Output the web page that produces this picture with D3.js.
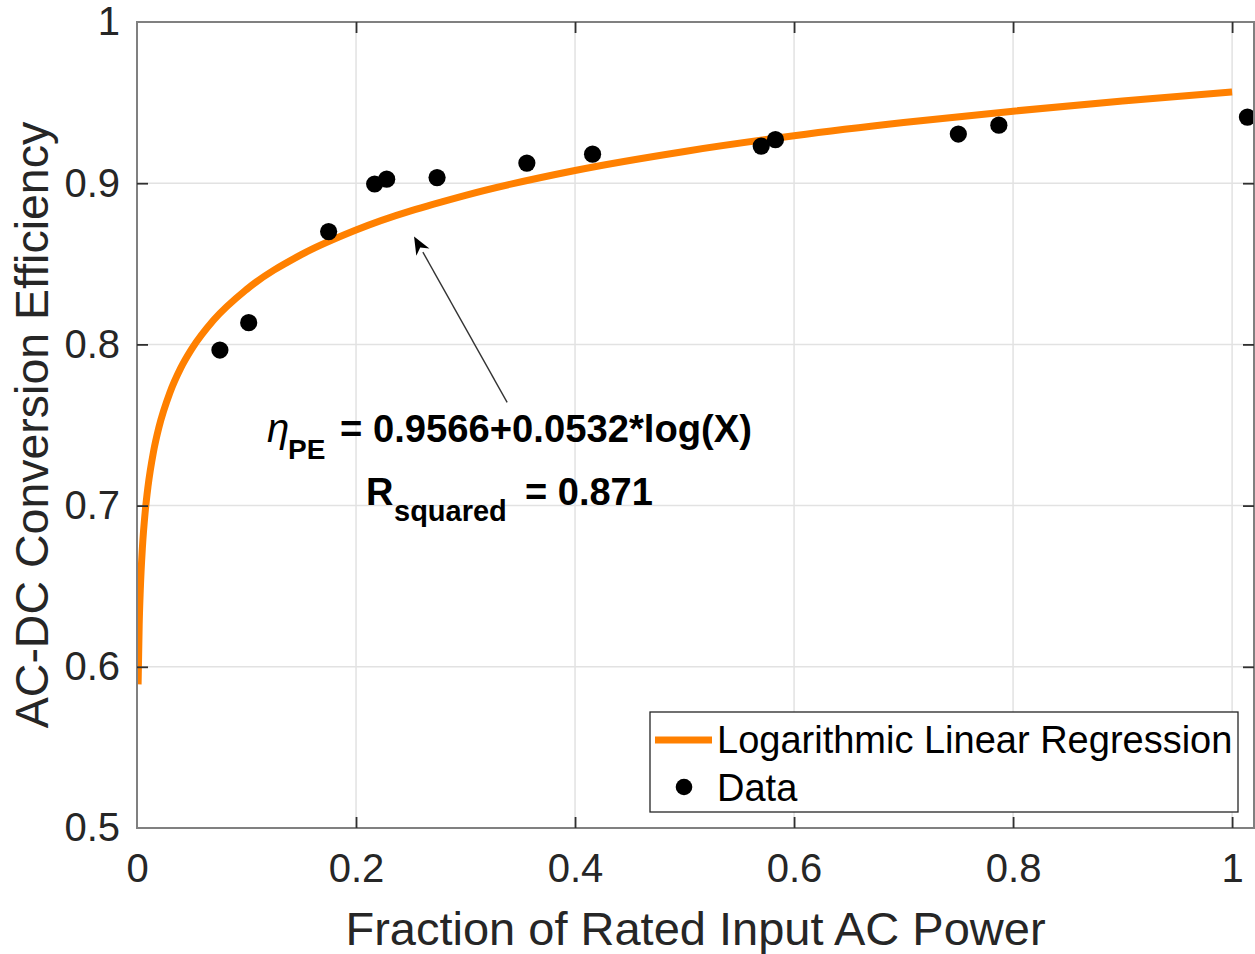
<!DOCTYPE html>
<html>
<head>
<meta charset="utf-8">
<script src="https://cdn.jsdelivr.net/npm/d3@7"></script>
<style>
  html, body { margin: 0; padding: 0; background: #fff; }
  svg { display: block; }
  text { font-family: "Liberation Sans", Arial, Helvetica, sans-serif; }
</style>
</head>
<body>
<svg id="chart" width="1255" height="954"></svg>
<script>
// ---- Data ----
const dataX = [0.0757, 0.102, 0.175, 0.217, 0.228, 0.274, 0.356, 0.416, 0.570, 0.583, 0.750, 0.787, 1.014];
const dataY = [0.7965, 0.8135, 0.8700, 0.8995, 0.9025, 0.9035, 0.9125, 0.9180, 0.9230, 0.9270, 0.9305, 0.9360, 0.9410];

// Regression curve (eta = 0.9566 + 0.0532*log(X))
const fitX = [0.001, 0.002, 0.003, 0.005, 0.0075, 0.01, 0.015, 0.02, 0.03, 0.04, 0.05, 0.07, 0.1, 0.15, 0.2, 0.3, 0.4, 0.5, 0.6, 0.7, 0.8, 0.9, 1.0];
const fitY = [0.5891, 0.6260, 0.6476, 0.6747, 0.6963, 0.7116, 0.7332, 0.7485, 0.7700, 0.7854, 0.7972, 0.8151, 0.8341, 0.8557, 0.8710, 0.8925, 0.9079, 0.9197, 0.9294, 0.9376, 0.9447, 0.9510, 0.9566];

const xTicks = [0, 0.2, 0.4, 0.6, 0.8, 1];
const xTickLabels = ["0", "0.2", "0.4", "0.6", "0.8", "1"];
const yTicks = [0.5, 0.6, 0.7, 0.8, 0.9, 1];
const yTickLabels = ["0.5", "0.6", "0.7", "0.8", "0.9", "1"];

const xLabel = "Fraction of Rated Input AC Power";
const yLabel = "AC-DC Conversion Efficiency";
const legendLabels = ["Logarithmic Linear Regression", "Data"];

// Annotation arrow (data coordinates): tail -> tip
const arrowTail = [0.338, 0.764];
const arrowTip = [0.253, 0.867];

// ---- Layout ----
const W = 1255, H = 954;
const L = 137, R = 1254, T = 22, B = 828;
const textColor = "#262626";
const orange = "#FF8000";

const svg = d3.select("#chart");
const x = d3.scaleLinear().domain([0, 1.02]).range([L, R]);
const y = d3.scaleLinear().domain([0.5, 1]).range([B, T]);

// clip
svg.append("defs").append("clipPath").attr("id", "plotclip")
  .append("rect").attr("x", L).attr("y", T).attr("width", R - L).attr("height", B - T);

// grid
const grid = svg.append("g").attr("class", "grid");
grid.selectAll("line.gx").data(xTicks.filter(d => d > 0)).join("line")
  .attr("x1", d => x(d)).attr("x2", d => x(d)).attr("y1", T).attr("y2", B)
  .attr("stroke", "#e2e2e2").attr("stroke-width", 1.5);
grid.selectAll("line.gy").data(yTicks.filter(d => d > 0.5 && d < 1)).join("line")
  .attr("class", "gy")
  .attr("x1", L).attr("x2", R).attr("y1", d => y(d)).attr("y2", d => y(d))
  .attr("stroke", "#e2e2e2").attr("stroke-width", 1.5);

const plot = svg.append("g").attr("clip-path", "url(#plotclip)");

// regression curve
const fitData = fitX.map((v, i) => [v, fitY[i]]);
const line = d3.line().x(d => x(d[0])).y(d => y(d[1])).curve(d3.curveMonotoneX);
plot.append("path").datum(fitData)
  .attr("d", line).attr("fill", "none").attr("stroke", orange)
  .attr("stroke-width", 7).attr("stroke-linejoin", "round");

// data points
const pts = dataX.map((v, i) => [v, dataY[i]]);
plot.selectAll("circle.pt").data(pts).join("circle")
  .attr("class", "pt")
  .attr("cx", d => x(d[0])).attr("cy", d => y(d[1])).attr("r", 8.6)
  .attr("fill", "#000");

// axes box
svg.append("rect").attr("x", L).attr("y", T).attr("width", R - L).attr("height", B - T)
  .attr("fill", "none").attr("stroke", "#808080").attr("stroke-width", 2);

// axes with D3 (ticks inward)
const tickLen = 11;
const xAxisB = d3.axisBottom(x).tickValues(xTicks).tickFormat((d, i) => xTickLabels[i]).tickSize(-tickLen).tickPadding(26);
const gxB = svg.append("g").attr("transform", `translate(0,${B})`).call(xAxisB);
const xAxisT = d3.axisTop(x).tickValues(xTicks).tickFormat("").tickSize(-tickLen);
const gxT = svg.append("g").attr("transform", `translate(0,${T})`).call(xAxisT);
const yAxisL = d3.axisLeft(y).tickValues(yTicks).tickFormat((d, i) => yTickLabels[i]).tickSize(-tickLen).tickPadding(17);
const gyL = svg.append("g").attr("transform", `translate(${L},0)`).call(yAxisL);
const yAxisR = d3.axisRight(y).tickValues(yTicks).tickFormat("").tickSize(-tickLen);
const gyR = svg.append("g").attr("transform", `translate(${R},0)`).call(yAxisR);

[gxB, gxT, gyL, gyR].forEach(g => {
  g.select(".domain").remove();
  g.selectAll(".tick line").attr("stroke", "#303030").attr("stroke-width", 1.8);
  g.selectAll(".tick text").attr("fill", textColor).attr("font-size", 40)
    .attr("font-family", "Liberation Sans, Arial, sans-serif");
});
// remove ticks overlapping the box corners
gxB.selectAll(".tick").filter(d => d === 0).select("line").remove();
gxT.selectAll(".tick").filter(d => d === 0).select("line").remove();
gyL.selectAll(".tick").filter(d => d === 0.5 || d === 1).select("line").remove();
gyR.selectAll(".tick").filter(d => d === 0.5 || d === 1).select("line").remove();
gxB.selectAll(".tick text").attr("dy", "0.71em");

// axis labels
svg.append("text").attr("x", (L + R) / 2).attr("y", 945)
  .attr("text-anchor", "middle").attr("fill", textColor).attr("font-size", 47)
  .text(xLabel);
svg.append("text").attr("transform", `translate(48,${(T + B) / 2}) rotate(-90)`)
  .attr("text-anchor", "middle").attr("fill", textColor).attr("font-size", 46.5)
  .text(yLabel);

// arrow annotation
const ax1 = x(arrowTail[0]), ay1 = y(arrowTail[1]);
const ax2 = x(arrowTip[0]), ay2 = y(arrowTip[1]);
const ang = Math.atan2(ay2 - ay1, ax2 - ax1);
const hl = 18, hw = 7.5;
const bx = ax2 - hl * Math.cos(ang), by = ay2 - hl * Math.sin(ang);
svg.append("line").attr("x1", ax1).attr("y1", ay1).attr("x2", bx).attr("y2", by)
  .attr("stroke", "#333").attr("stroke-width", 1.4);
const notch = 0.7;
svg.append("path")
  .attr("d", `M${ax2},${ay2} L${bx - hw * Math.sin(ang)},${by + hw * Math.cos(ang)} L${ax2 - hl * notch * Math.cos(ang)},${ay2 - hl * notch * Math.sin(ang)} L${bx + hw * Math.sin(ang)},${by - hw * Math.cos(ang)} Z`)
  .attr("fill", "#000");

// equation text
const eq = svg.append("g").attr("fill", "#000");
eq.append("text").attr("x", 267).attr("y", 442)
  .attr("font-family", "Liberation Serif, Times New Roman, serif").attr("font-style", "italic")
  .attr("font-size", 40).text("η");
eq.append("text").attr("x", 288).attr("y", 459)
  .attr("font-weight", "bold").attr("font-size", 28).text("PE");
eq.append("text").attr("x", 340).attr("y", 442)
  .attr("font-weight", "bold").attr("font-size", 38)
  .attr("textLength", 412).attr("lengthAdjust", "spacingAndGlyphs")
  .text("= 0.9566+0.0532*log(X)");
eq.append("text").attr("x", 366).attr("y", 505)
  .attr("font-weight", "bold").attr("font-size", 38).text("R");
eq.append("text").attr("x", 394).attr("y", 521)
  .attr("font-weight", "bold").attr("font-size", 29).text("squared");
eq.append("text").attr("x", 525).attr("y", 505)
  .attr("font-weight", "bold").attr("font-size", 38).text("= 0.871");

// legend
const lg = svg.append("g");
lg.append("rect").attr("x", 650).attr("y", 712).attr("width", 588).attr("height", 100)
  .attr("fill", "#fff").attr("stroke", "#262626").attr("stroke-width", 1.3);
lg.append("line").attr("x1", 655).attr("x2", 712).attr("y1", 740).attr("y2", 740)
  .attr("stroke", orange).attr("stroke-width", 7);
lg.append("text").attr("x", 717).attr("y", 753).attr("fill", "#000").attr("font-size", 38)
  .text(legendLabels[0]);
lg.append("circle").attr("cx", 684).attr("cy", 787).attr("r", 8.3).attr("fill", "#000");
lg.append("text").attr("x", 717).attr("y", 801).attr("fill", "#000").attr("font-size", 38)
  .text(legendLabels[1]);
</script>
</body>
</html>
